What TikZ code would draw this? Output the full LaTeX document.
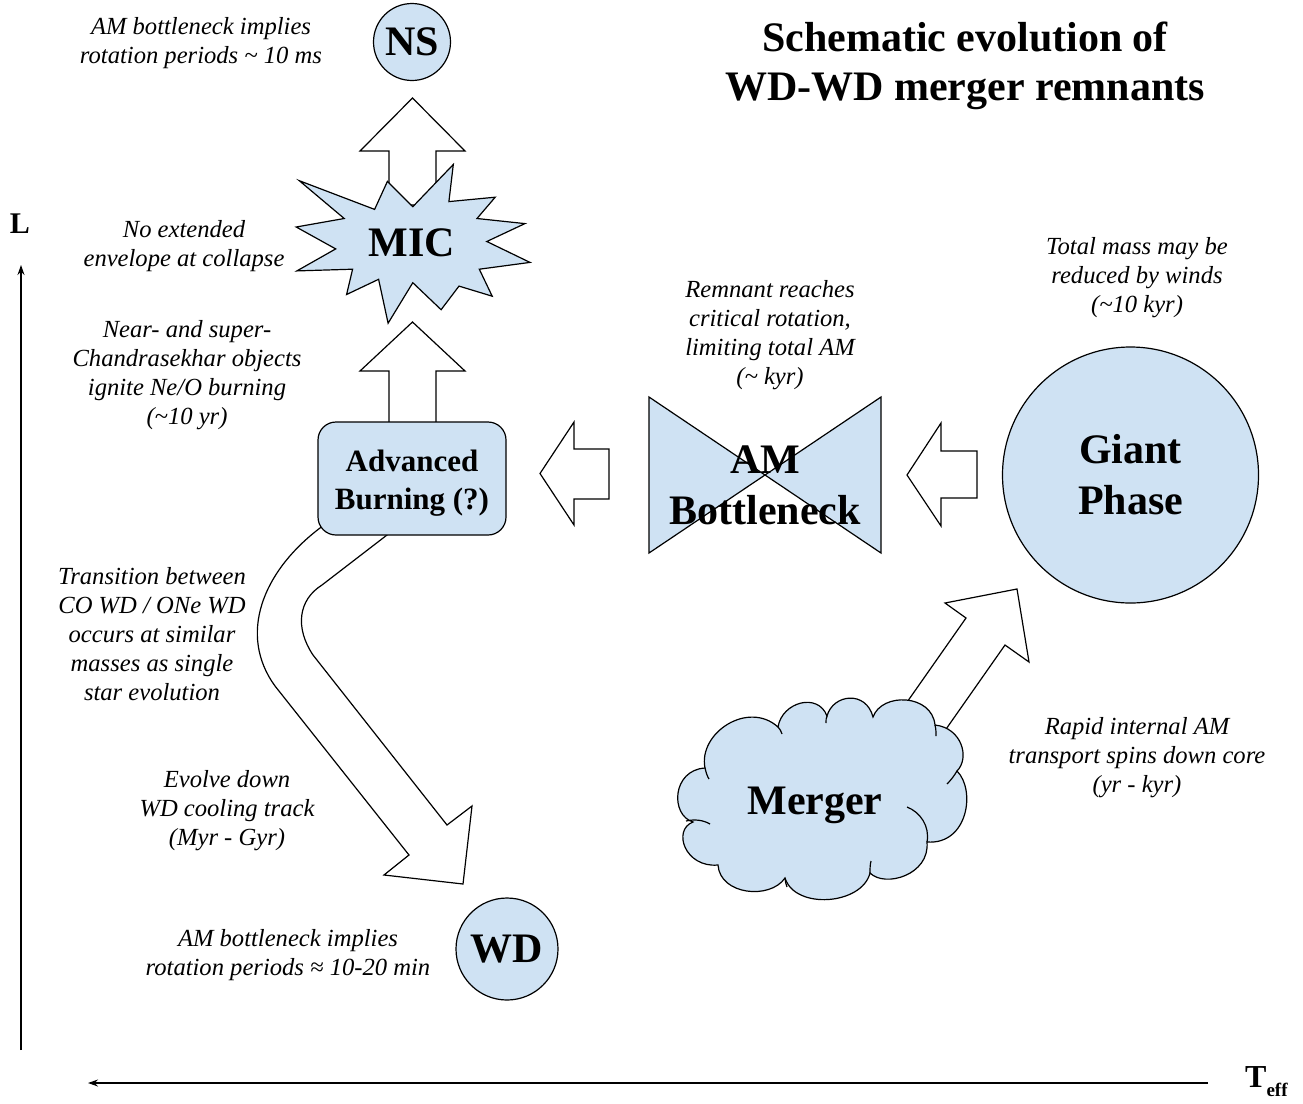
\documentclass[tikz,border=0pt]{standalone}
\usepackage{fontspec}
\setmainfont{Liberation Serif}
\usetikzlibrary{arrows.meta}
\definecolor{lb}{HTML}{CFE2F3}
\tikzset{
  shapeblue/.style={fill=lb, draw=black, line width=1.2pt, line join=miter},
  blockarrow/.style={fill=white, draw=black, line width=1.2pt, line join=miter},
  inner arc/.style={line width=1.2pt},
  note/.style={font=\fontsize{24.6}{29}\selectfont\itshape, align=center, inner sep=0pt},
  bigtext/.style={font=\fontsize{42}{51}\selectfont\bfseries, align=center, inner sep=0pt},
  axis/.style={line width=1.2pt, -{Stealth[length=10pt,width=7pt]}},
}
\begin{document}
\begin{tikzpicture}[x=1pt,y=-1pt]
\useasboundingbox[fill=white] (0,0) rectangle (1303,1103);

% ---------- block arrows (drawn first, shapes cover their tails) ----------
% MIC -> NS
\draw[blockarrow] (389,205) -- (389,151) -- (360,151) -- (412.5,98) -- (465,151) -- (436,151) -- (436,205) -- cycle;
% Advanced -> MIC
\draw[blockarrow] (389,430) -- (389,371) -- (360,371) -- (412.5,322) -- (465,371) -- (436,371) -- (436,430) -- cycle;
% AM -> Advanced
\draw[blockarrow] (609,449) -- (574,449) -- (574,422) -- (540,473.5) -- (574,525) -- (574,499) -- (609,499) -- cycle;
% Giant -> AM
\draw[blockarrow] (977,451) -- (941,451) -- (941,423) -- (907,475) -- (941,526) -- (941,498) -- (977,498) -- cycle;
% Merger -> Giant
\draw[blockarrow] (851,782) -- (966,618) -- (945,603) -- (1017,589) -- (1029,662) -- (1005,645) -- (890,809) -- cycle;
% Advanced -> WD (curved)
\draw[blockarrow] (328,522) -- (320,528) .. controls (262,572) and (238,635) .. (275,686)
  -- (409,855) -- (384,875) -- (463,884) -- (472,806) -- (447,825) -- (313,655)
  .. controls (295,628) and (298,600) .. (322,585) -- (387,535) -- (396,528) -- cycle;

% ---------- shapes ----------
\node[circle, shapeblue, minimum size=77pt, bigtext] (ns) at (412,42) {NS};

\draw[shapeblue] (299.3,180.7) -- (374.6,209.4) -- (387.4,181.4) -- (412.8,206.7) -- (453.3,164.5)
  -- (448.9,201.6) -- (495.2,197.2) -- (477,218.5) -- (524.9,223.6) -- (486.8,241.5)
  -- (530,262.4) -- (479.3,269.2) -- (492.2,296.2) -- (459,286.1) -- (441.1,309.7)
  -- (412.8,282.7) -- (388.1,323.2) -- (378.6,279.3) -- (346.6,294.5) -- (352.6,269.2)
  -- (296.9,270.9) -- (335.7,248.9) -- (296.2,227) -- (344.2,218.5) -- cycle;
\node[bigtext] (mic) at (412,243) {MIC};

\node[shapeblue, rounded corners=18pt, minimum width=188pt, minimum height=113pt] (adv) at (412,478.5) {};
\node[font=\fontsize{31}{38}\selectfont\bfseries, align=center, inner sep=0pt] (advtext) at (412,483) {Advanced\\Burning (?)};

\draw[shapeblue] (649,397) -- (881,553) -- (881,397) -- (649,553) -- cycle;
\node[bigtext] (am) at (765,485) {AM\\Bottleneck};

\node[circle, shapeblue, minimum size=256pt, bigtext] (giant) at (1130.5,475) {Giant\\Phase};

% Merger cloud
\draw[shapeblue] (705,768) .. controls (698,733) and (748,700) .. (778,727)
  .. controls (782,702) and (818,692) .. (827,716)
  .. controls (833,694) and (866,690) .. (873,717)
  .. controls (882,692) and (932,694) .. (935,725)
  .. controls (962,728) and (970,758) .. (957,771)
  .. controls (976,790) and (968,845) .. (927,842)
  .. controls (930,875) and (885,888) .. (870,873)
  .. controls (862,905) and (795,910) .. (785,878)
  .. controls (770,900) and (720,895) .. (718,865)
  .. controls (685,868) and (672,830) .. (693,822)
  .. controls (670,815) and (672,770) .. (705,768) -- cycle;
\draw[inner arc] (705,768) .. controls (706,772) and (707,776) .. (709,779);
\draw[inner arc] (686,821) .. controls (695,819) and (703,820) .. (710,824);
\draw[inner arc] (778,727) .. controls (780,729) and (781,731) .. (782,734);
\draw[inner arc] (827,716) .. controls (826,718) and (826,720) .. (826,723);
\draw[inner arc] (935,725) .. controls (936,729) and (936,732) .. (936,736);
\draw[inner arc] (957,771) .. controls (954,776) and (951,780) .. (947,784);
\draw[inner arc] (907,807) .. controls (920,812) and (930,826) .. (927,842);
\draw[inner arc] (870,873) .. controls (870,869) and (870,865) .. (871,861);
\draw[inner arc] (785,878) .. controls (785,881) and (786,884) .. (787,887);
\node[bigtext] (merger) at (815,805) {Merger};

\node[circle, shapeblue, minimum size=102pt, bigtext] (wd) at (507,949) {WD};

% ---------- notes ----------
\node[note] (n1) at (201,43.5) {AM bottleneck implies\\rotation periods \textasciitilde\ 10 ms};
\node[note] (n2) at (184,246) {No extended\\envelope at collapse};
\node[note] (n3) at (187,375) {Near- and super-\\Chandrasekhar objects\\ignite Ne/O burning\\(\textasciitilde10 yr)};
\node[note] (n4) at (152,634.5) {Transition between\\CO WD / ONe WD\\occurs at similar\\masses as single\\star evolution};
\node[note] (n5) at (227,810.5) {Evolve down\\WD cooling track\\(Myr - Gyr)};
\node[note] (n6) at (288,955) {AM bottleneck implies\\rotation periods ≈ 10-20 min};
\node[note] (n7) at (770,335) {Remnant reaches\\critical rotation,\\limiting total AM\\(\textasciitilde\ kyr)};
\node[note] (n8) at (1137,278) {Total mass may be\\reduced by winds\\(\textasciitilde10 kyr)};
\node[note] (n9) at (1137,757.5) {Rapid internal AM\\transport spins down core\\(yr - kyr)};

% ---------- title ----------
\node[font=\fontsize{42}{49}\selectfont\bfseries, align=center, inner sep=0pt] (title) at (965,66) {Schematic evolution of\\WD-WD merger remnants};

% ---------- axes ----------
\coordinate (ybot) at (21,1050);
\coordinate (ytop) at (21,265);
\coordinate (xright) at (1208,1083);
\coordinate (xleft) at (88,1083);
\draw[axis] (ybot) -- (ytop);
\draw[axis] (xright) -- (xleft);
\node[font=\fontsize{30}{30}\selectfont\bfseries, inner sep=0pt] (lab) at (20,224) {L};
\node[font=\fontsize{32}{32}\selectfont\bfseries, inner sep=0pt, anchor=base west] (teff) at (1245,1087) {T\raisebox{-9pt}{\fontsize{19}{19}\selectfont eff}};
\end{tikzpicture}
\end{document}
